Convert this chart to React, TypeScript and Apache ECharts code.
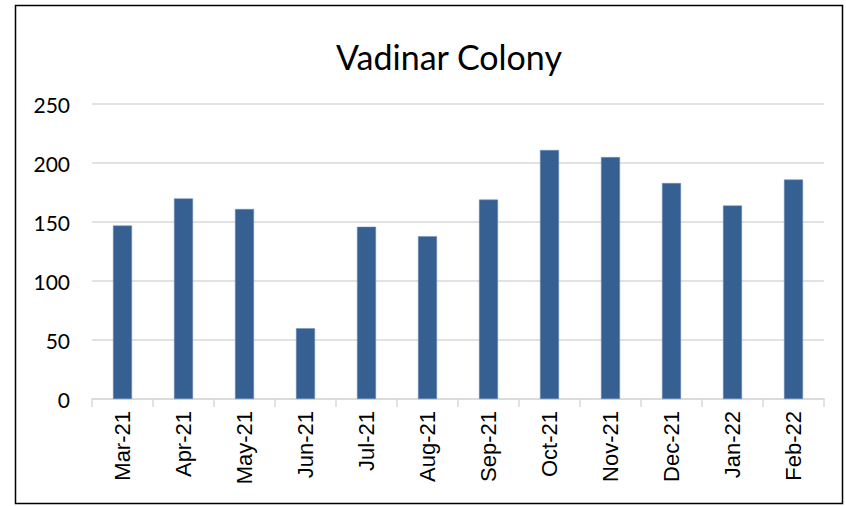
import React, { useEffect, useRef } from "react";
import * as echarts from "echarts";

const categories = ["Mar-21", "Apr-21", "May-21", "Jun-21", "Jul-21", "Aug-21", "Sep-21", "Oct-21", "Nov-21", "Dec-21", "Jan-22", "Feb-22"];
const values = [147, 170, 161, 60, 146, 138, 169, 211, 205, 183, 164, 186];
const yTicks = [0, 50, 100, 150, 200, 250];

export default function App() {
  const ref = useRef<HTMLDivElement>(null);
  useEffect(() => {
    const chart = echarts.init(ref.current!, null, { renderer: "svg" });
    chart.setOption({
      animation: false,
      backgroundColor: "#ffffff",
      title: {
        text: "Vadinar Colony",
        left: 444,
        textAlign: "center",
        top: 34,
        textStyle: { fontFamily: "Lato, 'Open Sans', sans-serif", fontSize: 34, fontWeight: "normal", color: "#000" },
      },
      grid: { left: 92, right: 22, top: 104, bottom: 107 },
      xAxis: {
        type: "category",
        data: categories,
        axisLine: { lineStyle: { color: "#d9d9d9", width: 1.5 } },
        axisTick: { show: true, length: 8, lineStyle: { color: "#d9d9d9", width: 1.5 } },
        axisLabel: {
          rotate: 90,
          margin: 12,
          fontFamily: "'Liberation Sans', Arial, sans-serif",
          fontSize: 22,
          color: "#000",
        },
      },
      yAxis: {
        type: "value",
        min: yTicks[0],
        max: yTicks[yTicks.length - 1],
        interval: 50,
        axisLine: { show: false },
        axisTick: { show: false },
        splitLine: { lineStyle: { color: "#d9d9d9", width: 1.5 } },
        axisLabel: {
          margin: 22,
          fontFamily: "Lato, 'Open Sans', sans-serif",
          fontSize: 21,
          color: "#000",
        },
      },
      series: [
        {
          type: "bar",
          data: values,
          barWidth: 19,
          itemStyle: { color: "#376092", borderColor: "#6f8fb8", borderWidth: 0.5 },
        },
      ],
      graphic: [
        {
          type: "rect",
          shape: { x: 15.5, y: 5.5, width: 827, height: 498 },
          style: { fill: "none", stroke: "#000", lineWidth: 1.5 },
          silent: true,
        },
      ],
    });
    return () => chart.dispose();
  }, []);
  return <div ref={ref} style={{ width: 846, height: 506, position: "absolute", left: 0, top: 0 }} />;
}
